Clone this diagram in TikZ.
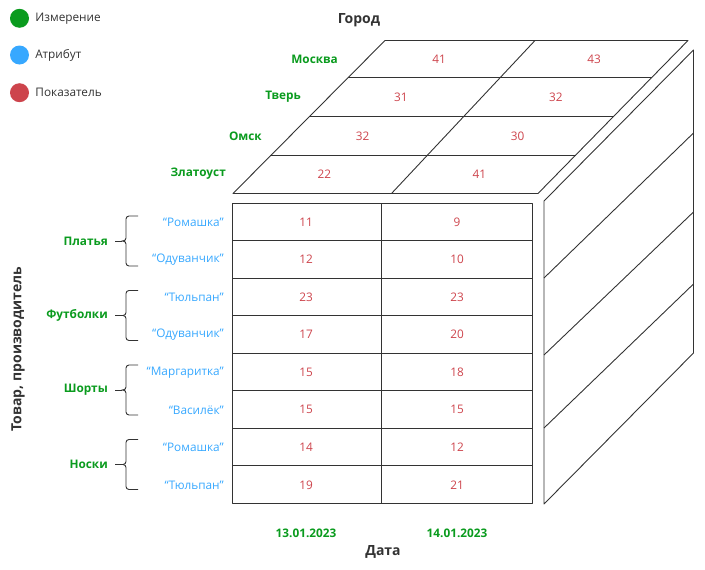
\documentclass[tikz,border=0pt]{standalone}
\usepackage{fontspec}
\setmainfont{Open Sans}
\usetikzlibrary{positioning}
\definecolor{dimgreen}{RGB}{10,155,30}
\definecolor{attrblue}{RGB}{55,168,255}
\definecolor{valred}{RGB}{205,68,76}
\definecolor{inkgray}{RGB}{51,51,51}
\tikzset{
  cube/.style={draw=inkgray, line width=0.9pt, line join=round},
  dim/.style={text=dimgreen, font=\fontsize{11.8}{14}\selectfont\bfseries, inner sep=0pt},
  attr/.style={text=attrblue, font=\fontsize{11.8}{14}\selectfont, inner sep=0pt},
  val/.style={text=valred, font=\fontsize{11.8}{14}\selectfont, inner sep=0pt},
  axis/.style={text=inkgray, font=\fontsize{14}{16}\selectfont\bfseries, inner sep=0pt},
  legdot/.style={circle, minimum size=19pt, inner sep=0pt},
  legtext/.style={text=inkgray, font=\fontsize{11.8}{14}\selectfont, inner sep=0pt},
  brace/.style={draw=inkgray, line width=0.9pt, rounded corners=3pt},
}
\begin{document}
\begin{tikzpicture}[x=1pt, y=-1pt]
    \useasboundingbox (0,0) rectangle (705,570);

    % легенда
    \node[legdot, fill=dimgreen] (dot-dim) at (19.5,18.3) {};
    \node[legtext, right=6pt of dot-dim] (leg-dim) {Измерение};
    \node[legdot, fill=attrblue] (dot-attr) at (19.5,55) {};
    \node[legtext, right=6pt of dot-attr] (leg-attr) {Атрибут};
    \node[legdot, fill=valred] (dot-val) at (19.5,92.7) {};
    \node[legtext, right=6pt of dot-val] (leg-val) {Показатель};

    % подписи осей
    \node[axis] (gorod) at (359,20) {Город};
    \node[axis] (data) at (383,552) {Дата};
    \node[axis, rotate=90] (tovar) at (18,349) {Товар, производитель};

    % верхняя грань: города
    \draw[cube] (233,193.5) -- (538,193.5) -- (688,40.5) -- (385,40.5) -- cycle;
    \foreach \xl/\xr/\y in {348/652/77.5, 309/614/116.5, 270/576/155.5}
        \draw[cube] (\xl,\y) -- (\xr,\y);
    \draw[cube] (391.5,193.5) -- (535,40.5);
    \node[dim, anchor=east] (moskva) at (338,59) {Москва};
    \node[dim, anchor=east] (tver) at (301,97) {Тверь};
    \node[dim, anchor=east] (omsk) at (262,136) {Омск};
    \node[dim, anchor=east] (zlatoust) at (226,174) {Златоуст};
    \foreach \a/\b [count=\i from 0] in {41/43, 31/32, 32/30, 22/41} {
        \node[val] (top\i-a) at ({439-38.2*\i},{59+38.4*\i}) {\a};
        \node[val] (top\i-b) at ({594-38.2*\i},{59+38.4*\i}) {\b};
    }

    % передняя грань: товары и даты
    \draw[cube] (232,203) rectangle (532,503.5);
    \draw[cube] (381.5,203) -- (381.5,503.5);
    \foreach \k in {1,...,7}
        \draw[cube] (232,{203+37.56*\k}) -- (532,{203+37.56*\k});
    \foreach \a/\b [count=\k from 0] in {11/9, 12/10, 23/23, 17/20, 15/18, 15/15, 14/12, 19/21} {
        \node[val] (row\k-a) at (306,{222+37.56*\k}) {\a};
        \node[val] (row\k-b) at (457,{222+37.56*\k}) {\b};
    }
    \node[dim] (date1) at (306,533) {13.01.2023};
    \node[dim] (date2) at (457,533) {14.01.2023};

    % правая грань
    \draw[cube] (544,201) -- (544,504) -- (693.5,353) -- (693.5,50) -- cycle;
    \foreach \yl/\yr in {278/133, 355/212, 428/284}
        \draw[cube] (544,\yl) -- (693.5,\yr);

    % производители
    \foreach \t [count=\k from 0] in {“Ромашка”, “Одуванчик”, “Тюльпан”, “Одуванчик”,
                                      “Маргаритка”, “Василёк”, “Ромашка”, “Тюльпан”}
        \node[attr, anchor=east] (attr\k) at (224,{222+37.56*\k}) {\t};

    % товары со скобками
    \foreach \g/\n [count=\k from 0] in {Платья/platya, Футболки/futbolki, Шорты/shorty, Носки/noski} {
        \pgfmathsetmacro\m{241+74.5*\k}
        \node[dim, anchor=east] (\n) at (108,\m) {\g};
        \coordinate (\n-tip) at (121.5,\m);
        \draw[brace] (138,{\m-25}) -- (126,{\m-25}) -- (126,\m) -- (\n-tip);
        \draw[brace] (138,{\m+25}) -- (126,{\m+25}) -- (126,\m) -- (\n-tip);
        \draw[cube] ([xshift=7pt]\n.east) -- (\n-tip);
    }
\end{tikzpicture}
\end{document}
